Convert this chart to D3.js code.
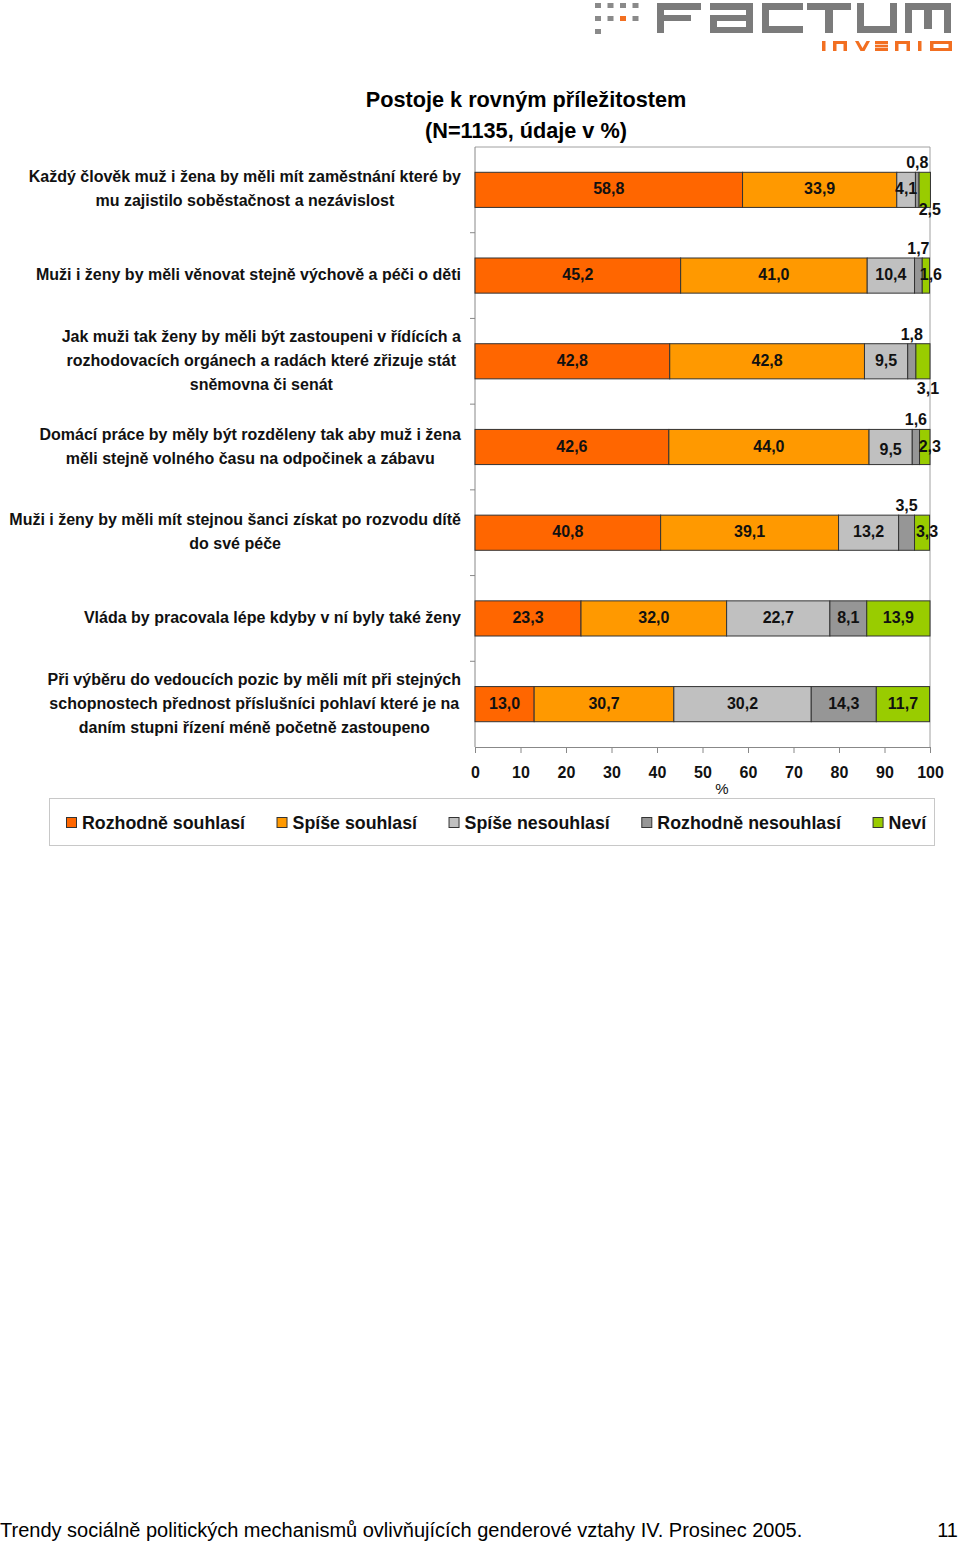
<!DOCTYPE html>
<html><head><meta charset="utf-8">
<script src="https://cdn.jsdelivr.net/npm/d3@7"></script>
<style>
body{margin:0;background:#fff;}
svg{display:block;font-family:"Liberation Sans",Arial,sans-serif;}
</style></head>
<body>
<svg id="chart" width="960" height="1543"></svg>
<script>
// ---------- DATA ----------
const categories = [
  ["Každý člověk muž i žena by měli mít zaměstnání které by", "mu zajistilo soběstačnost a nezávislost"],
  ["Muži i ženy by měli věnovat stejně výchově a péči o děti"],
  ["Jak muži tak ženy by měli být zastoupeni v řídících a", "rozhodovacích orgánech a radách  které zřizuje stát", "sněmovna či senát"],
  ["Domácí práce by měly být rozděleny tak  aby muž i žena", "měli stejně volného času na odpočinek a zábavu"],
  ["Muži i ženy by měli mít stejnou šanci získat po rozvodu dítě", "do své péče"],
  ["Vláda by pracovala lépe kdyby v ní byly také ženy"],
  ["Při výběru do vedoucích pozic by měli mít při stejných", "schopnostech přednost příslušníci pohlaví  které je na", "daním stupni řízení méně početně zastoupeno"]
];
const seriesNames = ["Rozhodně souhlasí", "Spíše souhlasí", "Spíše nesouhlasí", "Rozhodně nesouhlasí", "Neví"];
const rozhodneSouhlasi   = [58.8, 45.2, 42.8, 42.6, 40.8, 23.3, 13.0];
const spiseSouhlasi      = [33.9, 41.0, 42.8, 44.0, 39.1, 32.0, 30.7];
const spiseNesouhlasi    = [4.1, 10.4, 9.5, 9.5, 13.2, 22.7, 30.2];
const rozhodneNesouhlasi = [0.8, 1.7, 1.8, 1.6, 3.5, 8.1, 14.3];
const nevi               = [2.5, 1.6, 3.1, 2.3, 3.3, 13.9, 11.7];
const xTicks = [0, 10, 20, 30, 40, 50, 60, 70, 80, 90, 100];
const titleLines = ["Postoje k rovným příležitostem", "(N=1135, údaje v %)"];
const axisUnit = "%";
const footerText = "Trendy sociálně politických mechanismů ovlivňujících genderové vztahy IV. Prosinec 2005.";
const pageNumber = "11";
// label placement codes: c=centre, a=above, b/B=below, r=right of centre, d=slightly lower
const labelPlacement = [
  ["c","c","c","a","b"],
  ["c","c","c","a","r"],
  ["c","c","c","a","B"],
  ["c","c","d","a","r"],
  ["c","c","c","a","r"],
  ["c","c","c","c","c"],
  ["c","c","c","c","c"]
];

// ---------- STYLE ----------
const colors = ["#FF6600", "#FF9900", "#C0C0C0", "#969696", "#99CC00"];
const svg = d3.select("#chart");
const values = [rozhodneSouhlasi, spiseSouhlasi, spiseNesouhlasi, rozhodneNesouhlasi, nevi];

const x = d3.scaleLinear().domain([0, 100]).range([475, 930]);
const y = d3.scaleBand().domain(d3.range(categories.length)).range([147, 747]).paddingInner(0.59).paddingOuter(0.295);

// ---------- LOGO ----------
const logo = svg.append("g");
const gray = "#7b7b7b", orange = "#F26F21";
const dots = [[0,0],[1,0],[2,0],[3,0],[0,1],[1,1],[2,1],[3,1],[0,2]];
dots.forEach(([c,r]) => logo.append("rect").attr("x", 595 + c*12.5).attr("y", 3 + r*13).attr("width", 6).attr("height", 5)
  .attr("fill", (c===2 && r===1) ? orange : "#8a8a8a"));
const R = (x0,y0,w,h,f) => logo.append("rect").attr("x",x0).attr("y",y0).attr("width",w).attr("height",h).attr("fill",f||gray);
// F
R(657,3,7,30); R(657,3,44,7); R(657,15,34,6);
// a
R(710,3,43,7); R(746,3,7,30); R(710,15,43,6); R(710,15,7,18); R(710,27,43,6);
// C
R(762,3,41,7); R(762,3,7,30); R(762,26,41,7);
// T
R(807,3,44,7); R(825,3,8,30);
// U
R(857,3,7,30); R(890,3,7,30); R(857,26,40,7);
// M
R(905,3,46,7); R(905,3,7,30); R(924,3,8,26); R(944,3,7,30);
// invenio
const O = orange;
R(822,41,3.5,10,O);                                   // i
R(833,41,14,3,O); R(833,41,3.5,10,O); R(843.5,41,3.5,10,O); // n
logo.append("path").attr("d","M855,41 L858.5,41 L862.5,48 L866.5,41 L870,41 L864.5,51 L860.5,51 Z").attr("fill",O); // v
R(875,41,13,3,O); R(875,44.7,13,2.7,O); R(875,48,13,3,O);  // e
R(895,41,15,3,O); R(895,41,3.5,10,O); R(906.5,41,3.5,10,O); // n
R(918,41,3.5,10,O);                                   // i
R(930,41,22,3,O); R(930,48,22,3,O); R(930,41,3.5,10,O); R(948.5,41,3.5,10,O); // o

// ---------- TITLE ----------
svg.selectAll(".title").data(titleLines).join("text")
  .attr("x", 526).attr("y", (d,i) => 107 + i*31)
  .attr("text-anchor", "middle").attr("font-size", 21.7).attr("font-weight", "bold").attr("fill", "#000")
  .text(d => d);

// ---------- PLOT FRAME ----------
svg.append("line").attr("x1", x(0)).attr("x2", x(100)).attr("y1", 147).attr("y2", 147).attr("stroke", "#a0a0a0");
svg.append("line").attr("x1", x(100)).attr("x2", x(100)).attr("y1", 147).attr("y2", 747).attr("stroke", "#a0a0a0");

// left axis
const gy = svg.append("g");
gy.append("line").attr("x1", x(0)).attr("x2", x(0)).attr("y1", 147).attr("y2", 747).attr("stroke", "#888");
d3.range(1, categories.length).forEach(i => {
  const yy = y(i) - y.step() * y.paddingInner() / 2;
  gy.append("line").attr("x1", x(0) - 5).attr("x2", x(0)).attr("y1", yy).attr("y2", yy).attr("stroke", "#888");
});

// bottom axis
const xAxis = d3.axisBottom(x).tickValues(xTicks).tickSize(6).tickPadding(14).tickFormat(d3.format("d"));
const gx = svg.append("g").attr("transform", "translate(0,747)").call(xAxis);
gx.select(".domain").attr("stroke", "#888");
gx.selectAll(".tick line").attr("stroke", "#888");
gx.selectAll(".tick text").attr("font-size", 16).attr("font-weight", "bold").attr("fill", "#111")
  .attr("font-family", '"Liberation Sans",Arial,sans-serif');
svg.append("text").attr("x", 722).attr("y", 794).attr("text-anchor", "middle").attr("font-size", 15).attr("fill", "#111").text(axisUnit);

// ---------- BARS ----------
const rows = categories.map((c, i) => {
  let acc = 0;
  return values.map((arr, s) => { const v = arr[i]; const seg = {row: i, s, v, x0: acc, x1: acc + v}; acc += v; return seg; });
});
const segs = rows.flat();
svg.append("g").selectAll("rect").data(segs).join("rect")
  .attr("x", d => x(d.x0)).attr("width", d => x(d.x1) - x(d.x0))
  .attr("y", d => y(d.row)).attr("height", y.bandwidth())
  .attr("fill", d => colors[d.s]).attr("stroke", "#333").attr("stroke-width", 1);

const fmt = v => d3.format(".1f")(v).replace(".", ",");
svg.append("g").selectAll("text").data(segs).join("text")
  .attr("x", d => {
    const cx = x((d.x0 + d.x1) / 2);
    const p = labelPlacement[d.row][d.s];
    return (p === "r" || p === "b" || p === "B") ? cx + 5 : cx;
  })
  .attr("y", d => {
    const p = labelPlacement[d.row][d.s];
    const top = y(d.row), bot = top + y.bandwidth(), mid = top + y.bandwidth() / 2;
    if (p === "a") return top - 4;
    if (p === "b") return bot + 8;
    if (p === "B") return bot + 15;
    if (p === "d") return mid + 8;
    return mid + 4.5;
  })
  .attr("text-anchor", "middle").attr("font-size", 16).attr("font-weight", "bold").attr("fill", "#111")
  .text(d => fmt(d.v));

// ---------- CATEGORY LABELS ----------
const lh = 24;
const lab = svg.append("g").selectAll("text").data(categories).join("text")
  .attr("text-anchor", "middle").attr("font-size", 16).attr("font-weight", "bold").attr("fill", "#111");
lab.each(function(lines, i) {
  const t = d3.select(this);
  const mid = y(i) + y.bandwidth() / 2;
  lines.forEach((ln, k) => {
    t.append("tspan").attr("x", 0).attr("y", mid + 4.5 + (k - (lines.length - 1) / 2) * lh).text(ln);
  });
  const w = this.getBBox().width;
  t.selectAll("tspan").attr("x", 461 - w / 2);
});

// ---------- LEGEND ----------
svg.append("rect").attr("x", 49.5).attr("y", 798.5).attr("width", 885).attr("height", 47)
  .attr("fill", "#fff").attr("stroke", "#c8c8c8");
let lx = 66;
seriesNames.forEach((n, i) => {
  svg.append("rect").attr("x", lx + 0.5).attr("y", 817.5).attr("width", 10).attr("height", 10)
    .attr("fill", colors[i]).attr("stroke", "#333");
  const t = svg.append("text").attr("x", lx + 16).attr("y", 829).attr("font-size", 17.8).attr("font-weight", "bold")
    .attr("fill", "#111").text(n);
  lx += 16 + t.node().getComputedTextLength() + 31.5;
});

// ---------- FOOTER ----------
svg.append("text").attr("x", 0).attr("y", 1537).attr("font-size", 20).attr("fill", "#000").text(footerText);
svg.append("text").attr("x", 958).attr("y", 1537).attr("text-anchor", "end").attr("font-size", 20).attr("fill", "#000").text(pageNumber);
</script>
</body></html>
